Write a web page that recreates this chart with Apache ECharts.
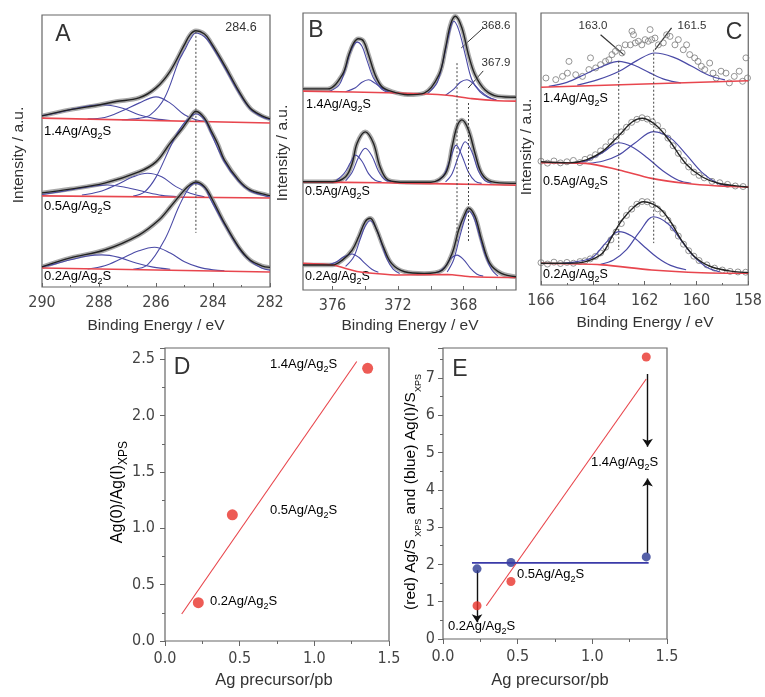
<!DOCTYPE html>
<html><head><meta charset="utf-8">
<script src="https://cdn.jsdelivr.net/npm/echarts@6/dist/echarts.min.js"></script>
<style>html,body{margin:0;padding:0;background:#fff}#c{width:765px;height:697px}</style>
</head><body><div id="c"></div>
<script>
// ---------- Panel A: C 1s (x = binding energy / eV, y = intensity a.u.) ----------
const A14_base=[[290,62.1],[282,60.3]];
const A14_env=[[290,62.9],[289,65.2],[288,66.9],[287.4,68.2],[286.6,69.5],[286.0,73.2],[285.5,79.4],[285.0,89.1],[284.8,92.8],[284.6,94.2],[284.3,93.0],[284.1,90.3],[283.6,81.6],[283.1,72.1],[282.7,65.8],[282.3,63.0],[282,61.8]];
const A14_c1=[[287.2,61.5],[286.6,62.0],[286.2,63.3],[285.7,69.5],[285.2,83.1],[285.0,87.0],[284.8,91.0],[284.6,93.4],[284.3,92.0],[284.1,89.5],[283.6,80.8],[283.1,71.5],[282.7,65.5],[282.3,62.6],[282,61.6]];
const A14_c2=[[288.4,61.8],[287.8,62.3],[287.2,64.7],[286.6,67.6],[286.0,69.9],[285.5,67.6],[285.0,63.3],[284.6,61.5],[284.2,60.9]];
const A14_c3=[[290,63.0],[289.5,64.0],[289.0,65.2],[288.4,66.5],[287.9,67.0],[287.2,65.8],[286.6,63.3],[286.0,61.8],[285.5,61.2]];
const A05_base=[[290,33.5],[282,32.7]];
const A05_env=[[290,34.6],[289,36.0],[287.8,38.2],[286.6,42.3],[286.0,46.0],[285.5,52.9],[285.1,58.0],[284.82,62.1],[284.6,64.6],[284.3,62.1],[284.07,57.5],[283.83,52.5],[283.6,46.7],[283.1,39.3],[282.7,35.7],[282.1,33.8],[282,33.6]];
const A05_c1=[[286.8,33.4],[286.4,35.0],[286.0,40.4],[285.5,51.5],[285.2,57.5],[284.9,61.5],[284.6,63.6],[284.3,61.5],[284.07,56.5],[283.6,46.0],[283.1,38.8],[282.7,35.3],[282.1,33.3],[282,33.1]];
const A05_c2=[[288.6,33.8],[288.0,35.0],[287.4,37.5],[286.8,40.5],[286.3,41.8],[285.8,40.5],[285.3,36.9],[284.8,34.5],[284.3,33.2]];
const A05_c3=[[290,34.0],[289.2,35.3],[288.4,36.8],[287.7,37.5],[287.0,36.5],[286.4,35.0],[285.8,33.7],[285.2,33.2]];
const A02_base=[[290,7.0],[282,5.5]];
const A02_env=[[290,7.4],[289,10.7],[287.8,13.6],[286.6,19.1],[285.9,24.6],[285.5,29.4],[285.0,35.7],[284.8,37.6],[284.6,38.6],[284.3,36.9],[284.07,33.1],[283.6,23.5],[283.1,14.7],[282.7,9.9],[282.3,7.8],[282,7.2]];
const A02_c1=[[286.8,6.5],[286.3,8.1],[285.7,17.3],[285.2,29.5],[284.9,35.5],[284.64,38.1],[284.3,36.5],[284.1,32.5],[283.6,23.0],[283.1,14.3],[282.7,9.6],[282.3,7.0],[282,6.2]];
const A02_c2=[[288.4,6.6],[287.8,7.8],[287.2,10.5],[286.6,13.3],[286.05,14.6],[285.5,12.5],[285.0,9.3],[284.5,7.3],[284.0,6.3],[283.6,6.0]];
const A02_c3=[[290,7.4],[289.5,8.6],[289.0,10.0],[288.4,11.4],[287.9,11.8],[287.3,10.9],[286.7,8.8],[286.1,7.3],[285.5,6.5]];
const A_dotted=[[284.6,93.8],[284.6,19.9]];

// ---------- Panel B: Ag 3d ----------
const B14_base=[[377.8,71.8],[372,71.1],[369,70.3],[367.5,69.1],[365.9,68.3],[364.8,68.2]];
const B14_env=[[377.8,72.6],[376.3,72.6],[375.4,77.7],[375.0,84.9],[374.7,89.2],[374.42,90.7],[374.1,89.8],[373.8,84.9],[373.4,77.7],[373.0,73.5],[372.4,71.7],[371.4,70.5],[370.4,71.1],[369.5,77.7],[369.1,87.4],[368.8,95.8],[368.5,98.8],[368.1,94.6],[367.7,84.9],[367.3,77.7],[366.7,72.3],[365.9,69.9],[364.8,69.6]];
const B14_c1=[[370.2,70.9],[369.6,75.0],[369.2,84.0],[368.9,92.0],[368.6,97.0],[368.3,94.0],[367.9,85.0],[367.5,76.0],[367.0,71.5],[366.5,69.5],[366.0,68.7]];
const B14_c2=[[369.1,70.3],[368.6,72.5],[368.2,75.0],[367.8,75.9],[367.4,74.5],[367.0,72.0],[366.5,69.8],[366.0,68.5]];
const B14_c3=[[376.2,71.7],[375.6,74.0],[375.2,80.0],[374.9,86.0],[374.5,89.5],[374.2,88.0],[373.9,83.0],[373.5,76.5],[373.0,72.5],[372.6,71.3]];
const B14_c4=[[375.2,71.6],[374.6,73.0],[374.2,75.0],[373.8,75.9],[373.4,74.6],[373.0,73.0],[372.6,71.6],[372.2,71.1]];
const B05_base=[[377.8,39.0],[373,38.7],[369,38.3],[364.8,37.8]];
const B05_env=[[377.8,39.1],[376.0,39.1],[375.2,40.9],[374.8,45.7],[374.5,53.0],[374.0,57.1],[373.5,53.0],[373.1,44.5],[372.6,39.7],[371.5,38.9],[370.0,38.9],[369.1,42.1],[368.7,51.7],[368.4,59.0],[368.1,61.4],[367.7,57.8],[367.3,49.3],[366.9,42.1],[366.3,39.1],[365.1,38.5],[364.8,38.5]];
const B05_c1=[[369.6,39.2],[369.2,41.5],[368.8,47.5],[368.45,52.3],[368.1,48.5],[367.7,42.5],[367.3,39.3],[366.9,38.5]];
const B05_c2=[[369.1,39.0],[368.7,42.0],[368.3,48.5],[367.9,53.5],[367.5,50.0],[367.1,43.0],[366.7,39.5],[366.3,38.6]];
const B05_c3=[[375.8,39.4],[375.3,42.0],[374.9,46.0],[374.6,48.7],[374.2,46.5],[373.8,42.0],[373.4,39.6],[373.0,39.0]];
const B05_c4=[[375.2,39.4],[374.8,42.5],[374.4,48.0],[374.0,51.2],[373.6,48.5],[373.2,43.0],[372.8,39.8],[372.4,39.2]];
const B02_base=[[377.8,9.6],[376.0,9.0],[374.4,6.6],[372.0,5.4],[369.0,5.6],[367.5,4.8],[364.8,4.5]];
const B02_env=[[377.8,9.0],[376.0,9.0],[375.4,10.8],[374.8,14.4],[374.4,19.2],[374.0,24.7],[373.7,25.9],[373.3,21.7],[372.9,15.6],[372.4,9.6],[371.6,6.6],[370.4,6.0],[369.3,7.2],[368.7,13.2],[368.3,21.7],[367.9,27.7],[367.7,29.5],[367.3,26.5],[366.9,18.1],[366.4,9.6],[365.7,6.0],[364.8,4.8]];
const B02_c1=[[369.0,6.5],[368.6,11.0],[368.2,20.0],[367.9,26.0],[367.7,28.5],[367.4,26.5],[367.1,21.0],[366.7,13.0],[366.3,7.5],[365.9,5.0]];
const B02_c2=[[369.6,6.2],[369.1,8.5],[368.8,11.2],[368.4,12.6],[368.0,11.0],[367.6,8.0],[367.2,5.8],[366.8,5.0]];
const B02_c3=[[375.2,8.5],[374.7,12.0],[374.3,18.5],[374.0,23.0],[373.7,25.0],[373.4,23.0],[373.1,18.5],[372.7,11.5],[372.3,7.5],[371.9,6.0]];
const B02_c4=[[376.3,9.0],[375.8,10.0],[375.3,12.0],[374.8,13.0],[374.4,11.8],[374.0,9.5],[373.6,7.5],[373.2,6.4]];
const B_dotted1=[[368.4,81.9],[368.4,17.0]];
const B_dotted2=[[367.7,67.5],[367.7,17.0]];
const B_leaders=[[[366.8,94.6],[368.14,87.4]],[[366.8,79.1],[367.72,72.9]]];
const B_tickLabels=[368,372,376];
const B_ticks=[366,368,370,372,374,376];

// ---------- Panel C: S 2p ----------
const C14_base=[[166,72.7],[158,75.1]];
const C14_c1=[[165.7,73.0],[165.0,74.5],[164.3,77.5],[163.6,80.5],[163.0,82.2],[162.4,80.8],[161.8,78.0],[161.2,75.5],[160.6,74.3]];
const C14_c2=[[164.6,73.5],[163.8,75.5],[163.0,78.5],[162.3,82.5],[161.6,85.3],[160.9,83.8],[160.2,80.5],[159.5,77.0],[158.9,75.4]];
const C14_pts=[[165.81,76.1],[165.43,75.5],[165.17,76.7],[164.98,77.9],[164.92,82.2],[164.66,77.3],[164.40,76.7],[164.15,79.2],[164.09,83.5],[163.89,79.8],[163.70,81.0],[163.51,82.2],[163.38,82.8],[163.26,84.7],[163.13,85.9],[163.00,87.1],[162.87,85.3],[162.75,88.3],[162.55,88.3],[162.49,93.3],[162.43,92.0],[162.36,89.0],[162.24,89.6],[162.11,88.3],[161.98,90.2],[161.86,89.6],[161.79,93.9],[161.73,90.2],[161.60,90.8],[161.47,88.3],[161.28,89.0],[161.15,92.0],[161.02,91.4],[160.83,88.3],[160.70,90.2],[160.51,86.5],[160.38,88.3],[160.26,84.7],[160.07,83.5],[159.94,82.2],[159.81,80.4],[159.68,79.2],[159.49,81.6],[159.36,77.9],[159.24,76.1],[159.05,78.6],[158.86,77.9],[158.73,74.3],[158.54,76.7],[158.35,78.6],[158.22,74.9],[158.09,83.5],[158.03,76.1]];
const C05_base=[[166,45.0],[164.28,44.7],[163.0,42.3],[161.73,39.2],[160.45,37.4],[159.17,36.4],[158,36.0]];
const C05_env=[[166,45.3],[164.9,44.9],[164.25,46.0],[163.61,49.2],[162.98,55.1],[162.47,60.0],[162.08,61.3],[161.57,58.8],[161.06,53.3],[160.42,44.7],[159.79,39.8],[159.15,37.4],[158.13,36.1],[158,36.0]];
const C05_c1=[[164.7,44.9],[164.2,45.8],[163.6,48.8],[163.0,52.3],[162.5,50.8],[161.9,46.8],[161.3,42.0],[160.7,38.5],[160.2,37.4]];
const C05_c2=[[164.2,44.7],[163.6,45.6],[163.0,47.8],[162.4,52.0],[161.66,56.4],[161.0,54.0],[160.4,48.0],[159.8,41.5],[159.2,37.5],[158.7,36.3]];
const C05_pts=[[166.0,45.5],[165.75,44.8],[165.5,45.6],[165.25,44.9],[165.0,45.3],[164.75,45.8],[164.5,45.0],[164.3,46.2],[164.1,46.8],[163.9,47.9],[163.7,49.3],[163.5,50.8],[163.3,52.7],[163.1,54.5],[162.9,56.3],[162.7,58.0],[162.5,59.8],[162.3,60.9],[162.1,61.5],[161.9,61.0],[161.7,60.0],[161.5,58.6],[161.3,56.5],[161.1,54.0],[160.9,51.2],[160.7,48.4],[160.5,45.7],[160.3,43.4],[160.1,41.5],[159.9,40.3],[159.7,39.4],[159.4,38.1],[159.1,37.6],[158.8,37.0],[158.5,36.4],[158.2,36.2]];
const C02_base=[[166,8.0],[163.64,7.4],[161.73,5.5],[159.81,4.5],[158,4.3]];
const C02_env=[[166,8.0],[164.92,8.0],[164.28,8.6],[163.64,11.6],[163.26,17.8],[162.87,23.9],[162.4,28.8],[162.05,30.6],[161.7,29.8],[161.35,27.6],[160.96,22.7],[160.58,16.5],[160.07,10.4],[159.43,6.7],[158.54,4.9],[158,4.6]];
const C02_c1=[[165.2,8.0],[164.6,8.6],[164.0,10.2],[163.5,15.5],[163.0,19.6],[162.5,18.0],[162.0,14.0],[161.5,10.0],[161.0,7.2],[160.4,5.6]];
const C02_c2=[[163.7,7.6],[163.2,9.2],[162.7,13.0],[162.2,19.5],[161.66,25.1],[161.1,22.5],[160.6,16.5],[160.1,10.5],[159.6,6.5],[159.1,4.8]];
const C02_pts=[[166.0,8.2],[165.75,7.7],[165.5,8.4],[165.25,7.9],[165.0,8.3],[164.75,8.0],[164.5,8.6],[164.3,8.9],[164.1,9.6],[163.9,10.5],[163.7,11.8],[163.5,13.9],[163.3,16.6],[163.1,19.5],[162.9,22.6],[162.7,25.6],[162.5,27.9],[162.3,29.7],[162.1,30.7],[161.9,30.6],[161.7,29.6],[161.5,28.0],[161.3,26.3],[161.1,23.8],[160.9,21.0],[160.7,18.0],[160.5,15.0],[160.3,12.6],[160.1,10.6],[159.9,9.0],[159.6,7.4],[159.3,6.2],[159.0,5.5],[158.7,5.0],[158.4,4.8],[158.1,4.7]];
const C_dotted1=[[163.0,82.4],[163.0,12.9]];
const C_dotted2=[[161.65,86.5],[161.65,15.4]];
const C_leaders=[[[163.70,92.0],[162.81,84.7]],[[160.96,94.5],[161.60,86.5]]];

// ---------- Panel D ----------
const D_precursor=[0.223,0.451,1.357];
const D_ratio=[0.34,1.12,2.42];
const D_fit=[[0.112,0.24],[1.284,2.48]];

// ---------- Panel E ----------
const E_precursor=[0.228,0.455,1.361];
const E_red=[0.89,1.54,7.56];
const E_blue=[1.88,2.05,2.20];
const E_fit=[[0.29,0.89],[1.361,6.97]];
const E_blueLine=[[0.194,2.04],[1.377,2.04]];
const E_arrows=[[[0.228,1.84],[0.228,0.45]],[[1.37,7.1],[1.37,5.15]],[[1.37,2.3],[1.37,4.3]]];

const sampleNames=['1.4','0.5','0.2'];

const BLUE='#4a4aa6', RED='#e8464e', TXT='#333', AX='#666';
const NARROW="'Liberation Sans Narrow','DejaVu Sans Condensed',sans-serif";
const SANS="'Liberation Sans',Arial,sans-serif";

const grids=[
 {left:42,top:15,width:228,height:272},
 {left:303,top:13,width:213,height:277},
 {left:541,top:13,width:209,height:272},
 {left:165,top:348,width:224,height:293},
 {left:443,top:348,width:224,height:291}
].map(g=>Object.assign({show:true,borderColor:AX,borderWidth:1.2,backgroundColor:'transparent'},g));

const lblStyle={color:'#444',fontSize:16,fontFamily:NARROW};
function specX(i,min,max,extra){
  return Object.assign({gridIndex:i,type:'value',min:min,max:max,inverse:true,
    axisLine:{show:false},splitLine:{show:false},
    axisTick:{show:true,inside:true,length:4,lineStyle:{color:AX}},
    minorTick:{show:true,splitNumber:2,length:2,lineStyle:{color:AX}},
    axisLabel:Object.assign({margin:8},lblStyle)},extra||{});
}
const xAxis=[
 specX(0,282,290,{interval:2}),
 specX(1,364.8,377.8,{axisTick:{show:true,inside:true,length:4,customValues:B_ticks,lineStyle:{color:AX}},minorTick:{show:false},axisLabel:Object.assign({margin:8,customValues:B_tickLabels},lblStyle)}),
 specX(2,158,166,{interval:2}),
 {gridIndex:3,type:'value',min:0,max:1.5,interval:0.5,axisLine:{show:false},splitLine:{show:false},
  axisTick:{length:5,lineStyle:{color:AX}},minorTick:{show:true,splitNumber:2,length:3,lineStyle:{color:AX}},
  axisLabel:Object.assign({margin:10,formatter:v=>v.toFixed(1)},lblStyle)},
 {gridIndex:4,type:'value',min:0,max:1.5,interval:0.5,axisLine:{show:false},splitLine:{show:false},
  axisTick:{length:5,lineStyle:{color:AX}},minorTick:{show:true,splitNumber:2,length:3,lineStyle:{color:AX}},
  axisLabel:Object.assign({margin:10,formatter:v=>v.toFixed(1)},lblStyle)}
];
function specY(i){return {gridIndex:i,type:'value',min:0,max:100,show:true,axisLine:{show:false},axisTick:{show:false},axisLabel:{show:false},splitLine:{show:false}};}
const yAxis=[specY(0),specY(1),specY(2),
 {gridIndex:3,type:'value',min:0,max:2.6,interval:0.5,axisLine:{show:false},splitLine:{show:false},
  axisTick:{length:5,lineStyle:{color:AX}},minorTick:{show:true,splitNumber:2,length:3,lineStyle:{color:AX}},
  axisLabel:Object.assign({margin:10,showMaxLabel:false,formatter:v=>v.toFixed(1)},lblStyle)},
 {gridIndex:4,type:'value',min:0,max:7.8,interval:1,axisLine:{show:false},splitLine:{show:false},
  axisTick:{length:5,lineStyle:{color:AX}},minorTick:{show:true,splitNumber:2,length:3,lineStyle:{color:AX}},
  axisLabel:Object.assign({margin:8,showMaxLabel:false},lblStyle)}
];

const series=[];
function ln(gi,data,color,width,opt){
  series.push(Object.assign({type:'line',xAxisIndex:gi,yAxisIndex:gi,data:data,showSymbol:false,symbol:'none',
    smooth:0.35,silent:true,animation:false,lineStyle:{color:color,width:width}},opt||{}));
}
function env(gi,data){ln(gi,data,'#8c8c8c',4.5,{lineStyle:{color:'#8c8c8c',width:4.5,opacity:0.75}});}
function envLine(gi,data){ln(gi,data,'#222',1.4);}
function dotted(gi,data){ln(gi,data,'#444',1,{smooth:false,lineStyle:{color:'#444',width:1,type:[2,2]}});}
function pts(gi,data){series.push({type:'scatter',xAxisIndex:gi,yAxisIndex:gi,data:data,symbol:'circle',symbolSize:6,silent:true,animation:false,
  itemStyle:{color:'rgba(255,255,255,0)',borderColor:'#7a7a7a',borderWidth:1}});}
function seg(gi,list,color,width,arrow){series.push({type:'lines',coordinateSystem:'cartesian2d',xAxisIndex:gi,yAxisIndex:gi,silent:true,animation:false,
  symbol:arrow?['none','arrow']:['none','none'],symbolSize:arrow?8:0,lineStyle:{color:color,width:width,opacity:1,curveness:0},
  data:list.map(c=>({coords:c}))});}

// A
[[A14_env,A14_c1,A14_c2,A14_c3,A14_base],[A05_env,A05_c1,A05_c2,A05_c3,A05_base],[A02_env,A02_c1,A02_c2,A02_c3,A02_base]].forEach(s=>{
  env(0,s[0]); ln(0,s[1],BLUE,1.1); ln(0,s[2],BLUE,1.1); ln(0,s[3],BLUE,1.1); ln(0,s[4],RED,1.6,{smooth:false}); envLine(0,s[0]);
});
dotted(0,A_dotted);
// B
[[B14_env,B14_c1,B14_c2,B14_c3,B14_c4,B14_base],[B05_env,B05_c1,B05_c2,B05_c3,B05_c4,B05_base],[B02_env,B02_c1,B02_c2,B02_c3,B02_c4,B02_base]].forEach(s=>{
  env(1,s[0]); for(let k=1;k<5;k++) ln(1,s[k],BLUE,1.1); ln(1,s[5],RED,1.6,{smooth:0.2}); envLine(1,s[0]);
});
dotted(1,B_dotted1); dotted(1,B_dotted2);
seg(1,B_leaders,'#333',1,false);
// C
pts(2,C14_pts); ln(2,C14_c1,BLUE,1.2); ln(2,C14_c2,BLUE,1.2); ln(2,C14_base,RED,1.6,{smooth:false});
[[C05_pts,C05_env,C05_c1,C05_c2,C05_base],[C02_pts,C02_env,C02_c1,C02_c2,C02_base]].forEach(s=>{
  pts(2,s[0]); ln(2,s[2],BLUE,1.2); ln(2,s[3],BLUE,1.2); ln(2,s[4],RED,1.6,{smooth:0.3}); envLine(2,s[1]);
});
dotted(2,C_dotted1); dotted(2,C_dotted2);
seg(2,C_leaders,'#333',1.2,false);
// D
ln(3,D_fit,'#e8444a',1.1,{smooth:false});
series.push({type:'scatter',xAxisIndex:3,yAxisIndex:3,symbolSize:11,silent:true,animation:false,itemStyle:{color:'#e8322b'},
  data:D_precursor.map((x,i)=>[x,D_ratio[i]])});
// E
ln(4,E_fit,'#e8444a',1.1,{smooth:false});
ln(4,E_blueLine,'#3a3aa8',1.8,{smooth:false});
seg(4,E_arrows,'#111',1.4,true);
series.push({type:'scatter',xAxisIndex:4,yAxisIndex:4,symbolSize:9,silent:true,animation:false,itemStyle:{color:'#e8322b'},
  data:E_precursor.map((x,i)=>[x,E_red[i]])});
series.push({type:'scatter',xAxisIndex:4,yAxisIndex:4,symbolSize:9,silent:true,animation:false,itemStyle:{color:'#2c3a92'},
  data:E_precursor.map((x,i)=>[x,E_blue[i]])});

// ---------- text annotations ----------
const rich=(fs,col)=>({n:{fontSize:fs,fontFamily:SANS,color:col,verticalAlign:'bottom',padding:[0,0,Math.round(fs*0.25),0]},
  s:{fontSize:Math.round(fs*0.72),fontFamily:SANS,color:col,verticalAlign:'bottom'}});
function sampleTxt(name,x,y,fs){return {type:'text',x:x,y:y,silent:true,style:{text:'{n|'+name+'Ag/Ag}{s|2}{n|S}',rich:rich(fs||12.5,TXT),verticalAlign:'middle'}};}
function t(text,x,y,fs,opt){return {type:'text',x:x,y:y,silent:true,rotation:(opt&&opt.rot)||0,
  style:{text:text,fontSize:fs,fontFamily:(opt&&opt.ff)||SANS,fill:(opt&&opt.color)||TXT,align:(opt&&opt.align)||'center',verticalAlign:'middle'}};}
const ROT=Math.PI/2;
const graphic=[
 t('A',63,35,23),t('B',316,31,23),t('C',734,33,23),t('D',182,368,23),t('E',460,370,23),
 t('284.6',241,28,12.5),t('368.6',496,26,11.5),t('367.9',496,63,11.5),t('163.0',593,26,11.5),t('161.5',692,26,11.5),
 sampleTxt(sampleNames[0],44,133,13),sampleTxt(sampleNames[1],44,208,13),sampleTxt(sampleNames[2],44,278,13),
 sampleTxt(sampleNames[0],306,106),sampleTxt(sampleNames[1],305,193),sampleTxt(sampleNames[2],305,278),
 sampleTxt(sampleNames[0],543,100),sampleTxt(sampleNames[1],543,183),sampleTxt(sampleNames[2],543,276),
 sampleTxt(sampleNames[0],270,366,13),sampleTxt(sampleNames[1],270,512,13),sampleTxt(sampleNames[2],210,603,13),
 sampleTxt(sampleNames[0],591,464,13),sampleTxt(sampleNames[1],517,576,13),sampleTxt(sampleNames[2],448,628,13),
 t('Binding Energy / eV',156,326,15.5),t('Binding Energy / eV',410,326,15.5),t('Binding Energy / eV',645,323,15.5),
 t('Intensity / a.u.',19,155,15.5,{rot:ROT}),t('Intensity / a.u.',283,153,15.5,{rot:ROT}),t('Intensity / a.u.',527,147,15.5,{rot:ROT}),
 t('Ag precursor/pb',274,680,16.5),t('Ag precursor/pb',550,680,16.5),
 {type:'text',x:120,y:492,rotation:ROT,silent:true,style:{text:'{n|Ag(0)/Ag(I)}{s|XPS}',rich:rich(16,TXT),align:'center',verticalAlign:'middle'}},
 {type:'text',x:413,y:492,rotation:ROT,silent:true,style:{
   text:'{r|(red) Ag/S}{rs| XPS}{k| and }{b|(blue) Ag(I)/S}{bs|XPS}',align:'center',verticalAlign:'middle',
   rich:{r:{fontSize:15.5,fontFamily:SANS,color:'#e8444a',verticalAlign:'bottom',padding:[0,0,4,0]},
         rs:{fontSize:9,fontFamily:SANS,color:'#e8444a',verticalAlign:'bottom'},
         k:{fontSize:15.5,fontFamily:SANS,color:TXT,verticalAlign:'bottom',padding:[0,0,4,0]},
         b:{fontSize:15.5,fontFamily:SANS,color:'#3a3aa8',verticalAlign:'bottom',padding:[0,0,4,0]},
         bs:{fontSize:9,fontFamily:SANS,color:'#3a3aa8',verticalAlign:'bottom'}}}}
];

const chart=echarts.init(document.getElementById('c'),null,{renderer:'canvas'});
chart.setOption({animation:false,backgroundColor:'#fff',grid:grids,xAxis:xAxis,yAxis:yAxis,series:series,graphic:graphic});
</script></body></html>
